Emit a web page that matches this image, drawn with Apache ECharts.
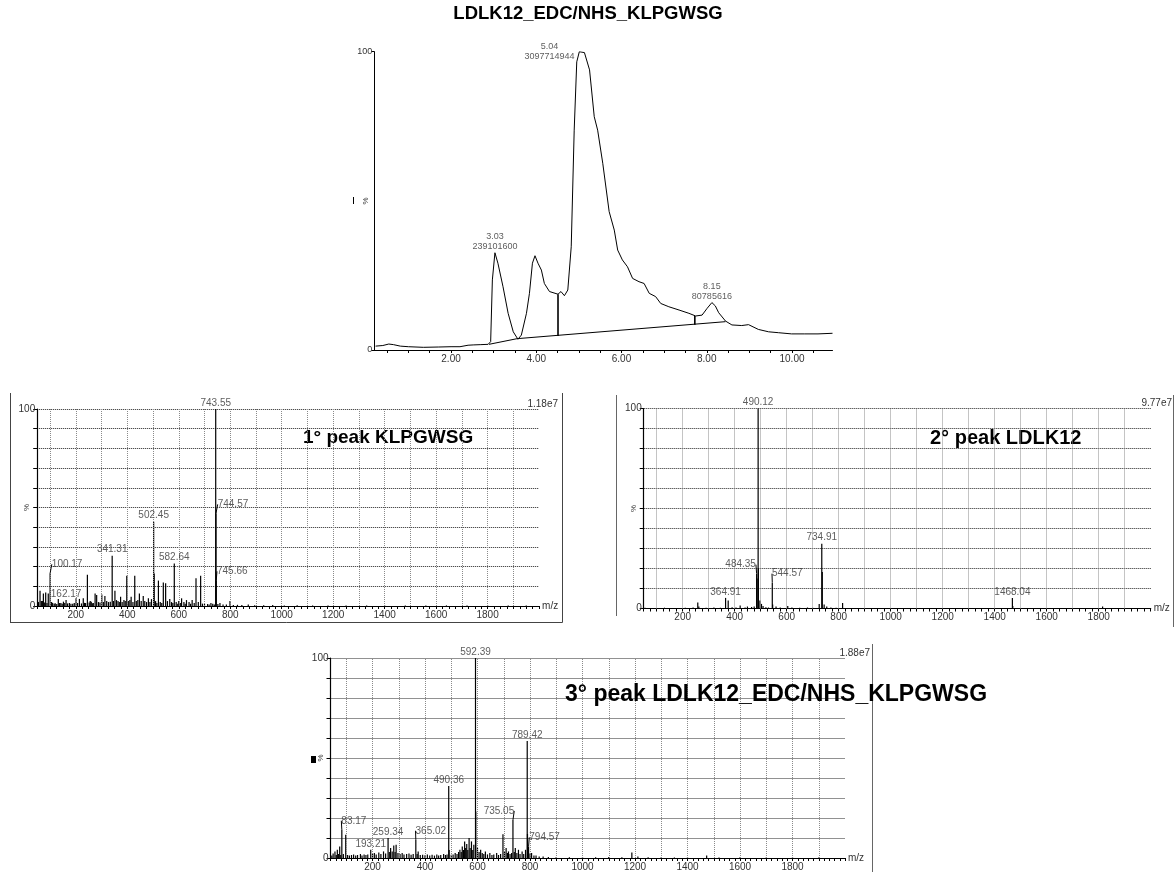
<!DOCTYPE html>
<html><head><meta charset="utf-8">
<script src="https://cdn.jsdelivr.net/npm/echarts@6/dist/echarts.min.js"></script>
<style>html,body{margin:0;padding:0;background:#fff}#c{width:1176px;height:872px}</style>
</head><body><div id="c"></div>
<script>
const FONT = '"Liberation Sans", Arial, Helvetica, sans-serif';

// ---------- DATA ----------
const mainTitle = 'LDLK12_EDC/NHS_KLPGWSG';
const panelTitles = ['1° peak KLPGWSG', '2° peak LDLK12', '3° peak LDLK12_EDC/NHS_KLPGWSG'];
const panelMaxIntensity = ['1.18e7', '9.77e7', '1.88e7'];

// Chromatogram (time, relative intensity %)
const chromTime = [0.23,0.40,0.54,0.65,0.81,1.00,1.35,1.70,2.00,2.21,2.40,2.52,2.70,2.87,2.93,2.97,3.03,3.10,3.22,3.34,3.46,3.57,3.65,3.77,3.84,3.91,3.97,4.04,4.12,4.19,4.31,4.51,4.58,4.66,4.74,4.82,4.89,4.95,5.01,5.04,5.13,5.25,5.36,5.44,5.56,5.71,5.83,5.91,6.02,6.14,6.26,6.41,6.53,6.65,6.80,6.92,7.11,7.35,7.58,7.74,7.89,8.01,8.12,8.20,8.28,8.44,8.59,8.82,8.98,9.21,9.45,9.68,9.99,10.30,10.61,10.95];
const chromInt  = [1.3,1.5,2.0,1.8,1.3,1.1,0.9,1.0,1.1,1.1,1.6,1.7,1.8,1.9,2.8,23.5,32.6,29.1,21.2,12.3,6.1,3.6,5.0,12.3,19.0,29.1,31.6,29.1,26.8,22.3,19.6,18.7,19.6,18.2,20.1,34.6,73.7,96.6,100,100,99.7,93.9,78.2,73.7,62.6,46.4,40.2,33.5,30.2,27.9,24.0,22.9,22.3,19.0,17.9,15.6,14.5,13.4,12.3,11.4,11.7,14.0,15.9,14.8,12.5,9.7,8.4,8.2,8.5,6.9,6.1,5.8,5.4,5.4,5.4,5.6];
const chromBaseTime = [2.89, 3.55, 8.44];
const chromBaseInt  = [1.9, 3.8, 9.5];
const chromDropTime = [4.51, 7.72];
const chromDropTop  = [18.7, 11.4];
const chromDropBottom = [4.7, 8.5];
const chromPeakTime = [3.03, 5.04, 8.12];
const chromPeakInt  = [32.6, 100, 15.9];
const chromPeakText = ['3.03\n239101600', '5.04\n3097714944', '8.15\n80785616'];
const chromTickValues = [0.5,1,1.5,2,2.5,3,3.5,4,4.5,5,5.5,6,6.5,7,7.5,8,8.5,9,9.5,10,10.5];
const chromLabelValues = [2,4,6,8,10];

// Mass spectra: [m/z, relative intensity %]
const spec1Peaks = [[52,2.2],[55,2],[61,7.8],[66,2.5],[70,2.5],[74,6.4],[79,1.8],[83,6.9],[88,1.5],[93,6.4],[100.17,16.6],[106,2],[110,1.5],[116,1.2],[120,1.4],[126,1],[132,3.6],[137,1.5],[142,1.5],[147,1.2],[152,2.2],[157,1.5],[162.17,3.0],[168,1.3],[175,1.5],[181,1.1],[188,1.2],[194,1.5],[201,3.9],[207,1.5],[214,3.6],[222,1.3],[229,3.9],[234,1.6],[238,1.5],[245,15.8],[252,1.8],[256,2.6],[260,2.2],[264,1.4],[268,1.5],[275,6.4],[281,5.6],[288,2],[294,1.8],[301,5.9],[307,2],[313,5.1],[320,2.5],[327,2],[334,2.2],[341.31,25.5],[346,2.5],[352,7.8],[358,3],[364,2.5],[369,2],[374,4.7],[380,2],[387,3],[392,2.5],[398,15.4],[404,2.5],[410,3],[415,4.7],[422,2],[429,15.3],[435,2.5],[441,3],[447,6.4],[454,2.5],[462,5.1],[468,2.5],[475,2],[482,3.9],[488,2],[494,3.5],[502.45,42.8],[504.5,16.5],[510,2.5],[515,1.5],[521,12.9],[528,2],[534,1.5],[540,11.9],[549,11.5],[556,2.5],[565,3.5],[572,2],[577,1.5],[582.64,21.6],[590,2],[596,1.2],[600,2.5],[606,1.5],[611,3.9],[620,2],[625,1.2],[630,3],[640,2],[646,1.2],[652,3],[660,1.5],[667,14.1],[676,2],[685,15.3],[692,1.2],[700,1.2],[712,1],[718,0.8],[725,1.5],[732,1.2],[738,0.8],[743.55,100],[744.57,47],[745.66,13],[752,1],[760,1.5],[772,0.8],[785,0.8],[799,2.5],[812,0.5],[828,0.6],[845,0.5],[870,0.8],[895,0.4],[930,0.4],[965,0.5],[1010,0.3],[1060,0.4],[1120,0.3],[1180,0.3],[1250,0.3],[1330,0.3],[1400,0.3],[1480,0.3],[1560,0.3],[1640,0.3],[1720,0.3],[1800,0.3],[1880,0.3],[1950,0.3]];
const spec1Labels = [[743.55,100],[502.45,42.8],[582.64,21.6],[341.31,25.5],[162.17,3.0]];
const spec1LabelText = ['743.55','502.45','582.64','341.31','162.17'];
const spec1Leaders = [[744.57,47],[745.66,13],[100.17,16.6]];
const spec1LeaderText = ['744.57','745.66','100.17'];

const spec2Peaks = [[55,0.4],[70,0.3],[95,0.3],[130,0.4],[170,0.3],[210,0.4],[240,0.5],[258,3],[262,1],[290,0.4],[320,0.5],[345,0.4],[364.91,5.3],[375,4],[390,0.6],[405,0.5],[421,1.5],[440,0.5],[449,1],[465,0.8],[475,1],[484.35,17.4],[486,15],[490.12,100],[491.1,20],[497,4],[503,2.3],[509,1.2],[520,0.6],[530,0.5],[544.57,12.9],[546,2],[559,1],[575,0.5],[604,1.3],[620,0.5],[650,0.4],[680,0.5],[700,0.4],[725,2.3],[734.91,32.4],[736.9,18.2],[744,2],[754,1],[770,0.5],[790,0.4],[815,2.7],[850,0.3],[900,0.3],[950,0.3],[1000,0.3],[1100,0.3],[1200,0.3],[1300,0.3],[1400,0.3],[1468.04,5.2],[1469.5,1.2],[1550,0.3],[1650,0.3],[1750,0.3],[1815,1],[1900,0.3]];
const spec2Labels = [[490.12,100],[734.91,32.4],[364.91,5.3],[1468.04,5.2]];
const spec2LabelText = ['490.12','734.91','364.91','1468.04'];
const spec2Leaders = [[484.35,17.4],[544.57,12.9]];
const spec2LeaderText = ['484.35','544.57'];

const spec3Peaks = [[45,1.2],[50,2.2],[57,3.3],[62,1.5],[66,4.1],[70,2],[75,5.8],[79,1.5],[83.17,14.1],[89,2],[98,11.6],[105,1.5],[112,1.2],[120,1.5],[128,1.7],[136,1.2],[143,1.5],[154,2],[160,1.3],[168,1.8],[175,1.5],[182,1.8],[193.21,4.1],[200,2],[207,2.5],[214,1.8],[224,2.8],[232,2],[242,3.3],[250,2.2],[259.34,10],[264,3],[269,5],[275,3.2],[281,6.3],[286,3],[290,6.6],[297,2.5],[305,2],[313,2.5],[320,1.8],[330,2],[339,2.2],[347,1.6],[355,2],[365.02,9.1],[370,2],[374,3.3],[382,1.5],[391,1.6],[400,1.4],[409,1.7],[418,1.3],[427,1.6],[436,1.2],[445,1.7],[452,1.2],[460,1.5],[471,2],[478,1.5],[484,1.8],[490.36,36],[492,4],[500,1.6],[507,1.8],[515,2.5],[522,2],[528,3],[533,4.1],[538,3],[542,5.8],[547,4],[551,8.3],[555,5],[559,7],[563,4],[568,10],[572,5],[577,8.3],[582,4],[586,6.6],[592.39,100],[593.4,23.2],[600,5],[606,3],[612,4.1],[618,2.5],[624,2],[630,3.3],[638,1.8],[647,2.5],[655,1.5],[662,1.8],[673,2.5],[680,1.5],[688,2],[697,11.9],[703,3],[709,5],[714,2.5],[718,3.3],[724,2],[730,2.5],[735.05,19],[740,3],[744,5],[750,2.5],[756,4.1],[762,2],[770,3.3],[776,2],[783,4.1],[789.42,58.5],[790.4,12],[794.57,5.8],[800,2.2],[806,2.5],[815,1.2],[823,1.3],[835,0.8],[850,0.7],[870,0.5],[900,0.5],[950,0.4],[1000,0.5],[1050,0.4],[1100,0.5],[1150,0.4],[1188,2.8],[1211,0.8],[1250,0.4],[1300,0.4],[1350,0.3],[1400,0.4],[1473,1.3],[1520,0.3],[1600,0.4],[1700,0.3],[1800,0.4],[1900,0.3]];
const spec3Labels = [[592.39,100],[789.42,58.5],[490.36,36],[259.34,10],[193.21,4.1]];
const spec3LabelText = ['592.39','789.42','490.36','259.34','193.21'];
const spec3Leaders = [[83.17,14.1],[365.02,9.1],[735.05,19],[794.57,5.8]];
const spec3LeaderText = ['83.17','365.02','735.05','794.57'];

const mzGridLines = [100,200,300,400,500,600,700,800,900,1000,1100,1200,1300,1400,1500,1600,1700,1800,1900];
const mzLabelValues = [200,400,600,800,1000,1200,1400,1600,1800];

// ---------- LAYOUT / STYLE ----------
const grids = [
  {left: 374.3, top: 51.7, width: 458.2, height: 298.3},
  {left: 37.2, top: 409, width: 501.9, height: 197},
  {left: 643.7, top: 408.5, width: 507, height: 200},
  {left: 330.5, top: 658, width: 514.5, height: 203}
];
const specAxis = [
  {min: 50, max: 2000, interval: 25},
  {min: 50, max: 2000, interval: 25},
  {min: 40, max: 2000, interval: 20}
];
const leaderShift = [[17,16,17],[-16,15],[12,15,-14,16]];
const chromLabelShift = [[0,0],[-31,11],[0,0]];
const maxTextRightX = [558, 1172, 870];

const txt = {fontFamily: FONT, color: '#333', fontSize: 10};

const xAxes = [{
  gridIndex: 0, type: 'value', min: 0.2, max: 10.95,
  axisLine: {lineStyle: {color: '#000', width: 1}},
  axisTick: {length: 3, lineStyle: {color: '#000'}, customValues: chromTickValues},
  axisLabel: Object.assign({margin: 4, customValues: chromLabelValues, formatter: v => Number(v).toFixed(2)}, txt),
  splitLine: {show: false}
}];
const yAxes = [{
  gridIndex: 0, type: 'value', min: 0, max: 100, interval: 100,
  axisLine: {show: true, lineStyle: {color: '#000'}},
  axisTick: {show: true, length: 3, lineStyle: {color: '#000'}},
  axisLabel: Object.assign({margin: 2}, txt, {fontSize: 9}),
  splitLine: {show: false},
  name: '%', nameLocation: 'middle', nameGap: 5, nameRotate: 90, nameMoveOverlap: false,
  nameTextStyle: Object.assign({}, txt, {fontSize: 8})
}];
for (let i = 0; i < 3; i++) {
  xAxes.push({
    gridIndex: i + 1, type: 'value', min: specAxis[i].min, max: specAxis[i].max, interval: specAxis[i].interval,
    axisLine: {lineStyle: {color: '#000', width: 1.2}},
    axisTick: {length: 3, lineStyle: {color: '#000'}},
    axisLabel: Object.assign({margin: 4, customValues: mzLabelValues, formatter: v => String(v)}, txt),
    splitLine: {show: false},
    name: 'm/z', nameLocation: 'end', nameGap: 3, nameMoveOverlap: false,
    nameTextStyle: Object.assign({verticalAlign: 'middle', align: 'left'}, txt)
  });
  yAxes.push({
    gridIndex: i + 1, type: 'value', min: 0, max: 100, interval: 10,
    axisLine: {show: true, lineStyle: {color: '#000', width: 1.2}},
    axisTick: {show: true, length: 4, lineStyle: {color: '#000'}},
    axisLabel: Object.assign({margin: 2, formatter: v => (v === 0 || v === 100) ? String(v) : ''}, txt),
    splitLine: {show: true, lineStyle: {type: 'dotted', color: '#222', width: 1}},
    name: '%', nameLocation: 'middle', nameGap: 6, nameRotate: 90, nameMoveOverlap: false,
    nameTextStyle: Object.assign({}, txt, {fontSize: 8})
  });
}

const series = [];
series.push({
  type: 'line', xAxisIndex: 0, yAxisIndex: 0, symbol: 'none', silent: true,
  data: chromTime.map((t, k) => [t, chromInt[k]]),
  lineStyle: {color: '#000', width: 1}
});
series.push({
  type: 'line', xAxisIndex: 0, yAxisIndex: 0, symbol: 'none', silent: true,
  data: chromBaseTime.map((t, k) => [t, chromBaseInt[k]]),
  lineStyle: {color: '#000', width: 1}
});
chromDropTime.forEach((t, k) => series.push({
  type: 'line', xAxisIndex: 0, yAxisIndex: 0, symbol: 'none', silent: true,
  data: [[t, chromDropTop[k]], [t, chromDropBottom[k]]],
  lineStyle: {color: '#000', width: 1.6}
}));
series.push({
  type: 'scatter', xAxisIndex: 0, yAxisIndex: 0, symbolSize: 0.1, silent: true,
  itemStyle: {color: 'rgba(0,0,0,0)'},
  data: chromPeakTime.map((t, k) => ({value: [t, chromPeakInt[k]],
    label: {offset: chromLabelShift[k]}})),
  label: {show: true, position: 'top', distance: 1, fontSize: 9, lineHeight: 10,
    fontFamily: FONT, color: '#333', formatter: p => chromPeakText[p.dataIndex]},
  z: 5
});

const specPeaks = [spec1Peaks, spec2Peaks, spec3Peaks];
const specLabels = [spec1Labels, spec2Labels, spec3Labels];
const specLabelText = [spec1LabelText, spec2LabelText, spec3LabelText];
const specLeaders = [spec1Leaders, spec2Leaders, spec3Leaders];
const specLeaderText = [spec1LeaderText, spec2LeaderText, spec3LeaderText];

for (let i = 0; i < 3; i++) {
  const ai = i + 1;
  series.push({
    type: 'bar', xAxisIndex: ai, yAxisIndex: ai, silent: true,
    barWidth: 1.2, data: specPeaks[i], itemStyle: {color: '#000'},
    markLine: {
      silent: true, symbol: 'none', label: {show: false}, animation: false,
      lineStyle: {type: 'dotted', color: '#8a8a8a', width: 1},
      data: mzGridLines.map(v => ({xAxis: v}))
    },
    z: 3
  });
  series.push({
    type: 'scatter', xAxisIndex: ai, yAxisIndex: ai, symbolSize: 0.1, silent: true,
    itemStyle: {color: 'rgba(0,0,0,0)'}, data: specLabels[i],
    label: Object.assign({show: true, position: 'top', distance: 1,
      formatter: p => specLabelText[i][p.dataIndex]}, txt),
    z: 5
  });
  series.push({
    type: 'scatter', xAxisIndex: ai, yAxisIndex: ai, symbolSize: 0.1, silent: true,
    itemStyle: {color: 'rgba(0,0,0,0)'}, data: specLeaders[i],
    label: Object.assign({show: true, position: 'top', distance: 4,
      formatter: p => specLeaderText[i][p.dataIndex]}, txt),
    labelLine: {show: true, lineStyle: {color: '#000', width: 1}},
    labelLayout: p => ({dx: leaderShift[i][p.dataIndex], dy: 0}),
    z: 5
  });
}

const graphic = [
  {type: 'text', left: 'center', top: 4, style: {text: mainTitle, fontFamily: FONT, fontSize: 18.5, fontWeight: 'bold', fill: '#000'}},
  {type: 'text', x: 303, y: 438, style: {text: panelTitles[0], fontFamily: FONT, fontSize: 19, fontWeight: 'bold', fill: '#000', verticalAlign: 'middle'}},
  {type: 'text', x: 930, y: 438, style: {text: panelTitles[1], fontFamily: FONT, fontSize: 20, fontWeight: 'bold', fill: '#000', verticalAlign: 'middle'}},
  {type: 'text', x: 565, y: 695, style: {text: panelTitles[2], fontFamily: FONT, fontSize: 23, fontWeight: 'bold', fill: '#000', verticalAlign: 'middle'}, z: 10},
  {type: 'line', shape: {x1: 10.5, y1: 393, x2: 10.5, y2: 622.5}, style: {stroke: '#444', lineWidth: 1}},
  {type: 'line', shape: {x1: 10, y1: 622.5, x2: 562.5, y2: 622.5}, style: {stroke: '#444', lineWidth: 1}},
  {type: 'line', shape: {x1: 562.5, y1: 393, x2: 562.5, y2: 622.5}, style: {stroke: '#444', lineWidth: 1}},
  {type: 'line', shape: {x1: 616.5, y1: 395, x2: 616.5, y2: 616}, style: {stroke: '#666', lineWidth: 1}},
  {type: 'line', shape: {x1: 1173.5, y1: 395, x2: 1173.5, y2: 627}, style: {stroke: '#666', lineWidth: 1}},
  {type: 'line', shape: {x1: 872.5, y1: 644, x2: 872.5, y2: 872}, style: {stroke: '#666', lineWidth: 1}},
  {type: 'rect', shape: {x: 311, y: 756, width: 5, height: 7}, style: {fill: '#000'}},
  {type: 'line', shape: {x1: 353.5, y1: 197, x2: 353.5, y2: 204}, style: {stroke: '#000', lineWidth: 1}}
];
for (let i = 0; i < 3; i++) {
  const g = grids[i + 1];
  graphic.push({type: 'text', x: maxTextRightX[i], y: g.top - 5,
    style: {text: panelMaxIntensity[i], fontFamily: FONT, fontSize: 10, fill: '#333', verticalAlign: 'middle', align: 'right'}});
}

const chart = echarts.init(document.getElementById('c'), null, {renderer: 'canvas'});
chart.setOption({
  animation: false,
  backgroundColor: '#fff',
  grid: grids.map(g => Object.assign({containLabel: false}, g)),
  xAxis: xAxes,
  yAxis: yAxes,
  series: series,
  graphic: graphic
});
</script>
</body></html>
